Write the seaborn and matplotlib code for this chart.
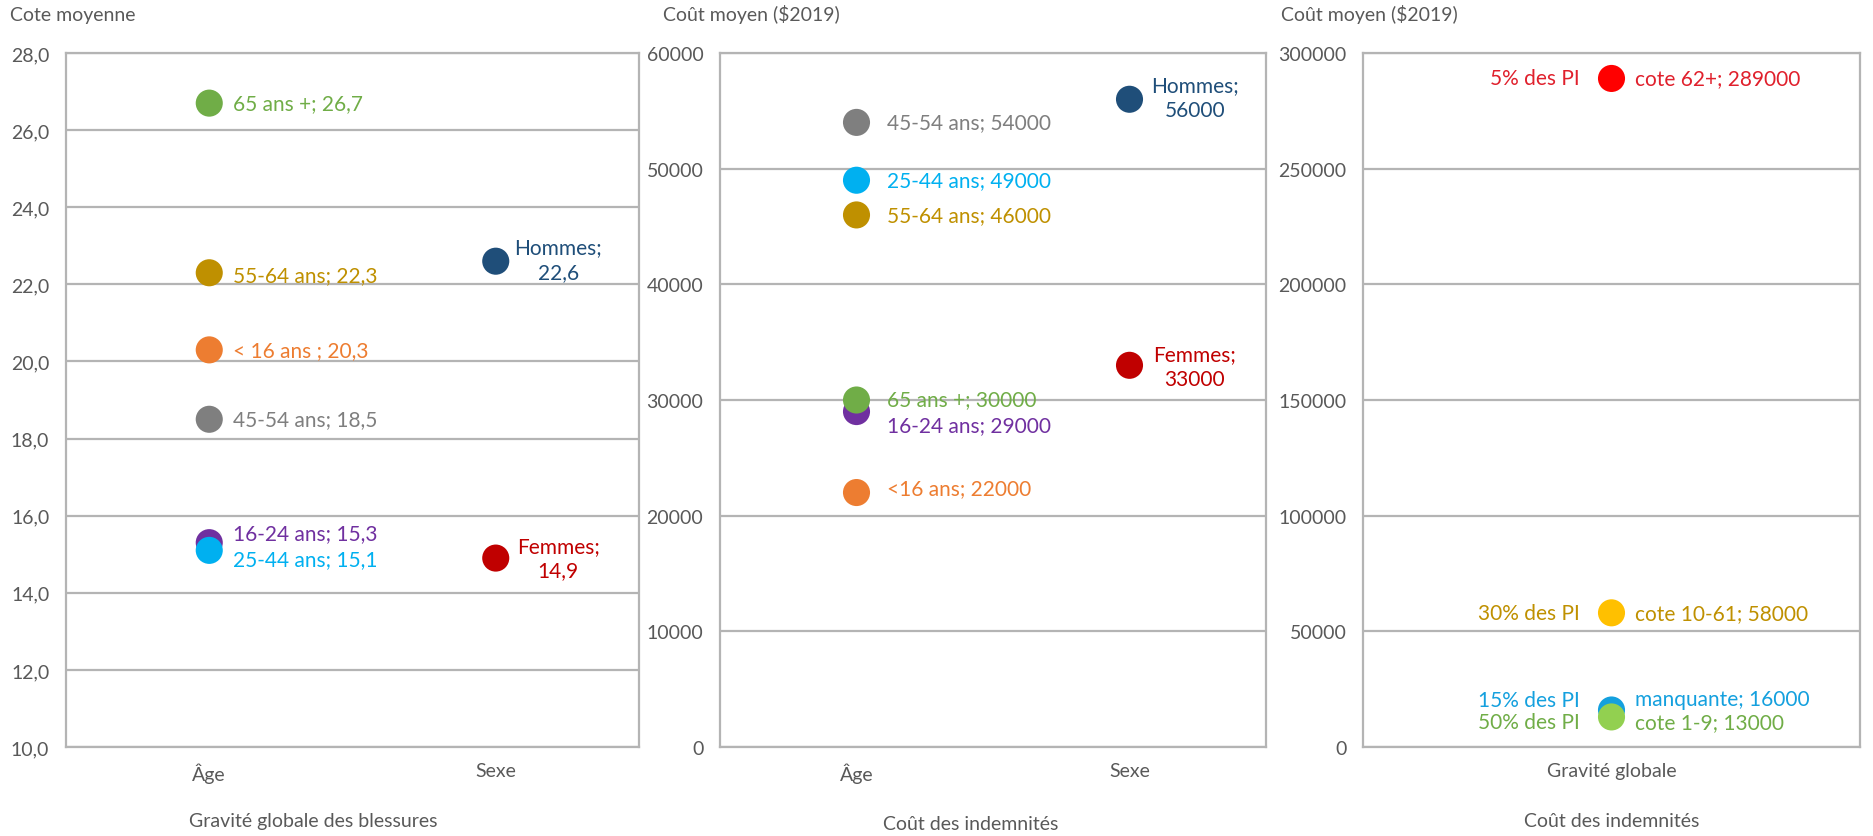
import matplotlib
matplotlib.use("Agg")
import matplotlib.pyplot as plt
from matplotlib.ticker import FuncFormatter, MultipleLocator
import pandas as pd
import seaborn as sns

# ---------------------------------------------------------------- data
# Gravité globale des blessures : cote moyenne par âge et par sexe
grav_groupes = ["Âge", "Âge", "Âge", "Âge", "Âge", "Âge", "Sexe", "Sexe"]
grav_labels = ["65 ans +", "55-64 ans", "< 16 ans ", "45-54 ans",
               "16-24 ans", "25-44 ans", "Hommes", "Femmes"]
grav_valeurs = [26.7, 22.3, 20.3, 18.5, 15.3, 15.1, 22.6, 14.9]

# Coût des indemnités : coût moyen ($2019) par âge et par sexe
cout_groupes = ["Âge", "Âge", "Âge", "Âge", "Âge", "Âge", "Sexe", "Sexe"]
cout_labels = ["45-54 ans", "25-44 ans", "55-64 ans", "16-24 ans",
               "65 ans +", "<16 ans", "Hommes", "Femmes"]
cout_valeurs = [54000, 49000, 46000, 29000, 30000, 22000, 56000, 33000]

# Coût des indemnités selon la gravité globale
sev_groupes = ["Gravité globale"] * 4
sev_labels = ["cote 62+", "cote 10-61", "manquante", "cote 1-9"]
sev_valeurs = [289000, 58000, 16000, 13000]
sev_parts = ["5% des PI", "30% des PI", "15% des PI", "50% des PI"]

# ---------------------------------------------------------------- styles
grav_couleurs = ["#70AD47", "#BF9000", "#ED7D31", "#7F7F7F",
                 "#7030A0", "#00B0F0", "#1F4E79", "#C00000"]
cout_couleurs = ["#7F7F7F", "#00B0F0", "#BF9000", "#7030A0",
                 "#70AD47", "#ED7D31", "#1F4E79", "#C00000"]
sev_couleurs = ["#FF0000", "#FFC000", "#14A0DE", "#92D050"]
sev_couleurs_texte = ["#E0202C", "#BF9000", "#14A0DE", "#70AD47"]

# label offsets (points) relative to each marker
grav_offsets = [(17, 0), (17, -2), (17, 0), (17, 0), (17, 7), (17, -6), (45, 1), (45, 0)]
cout_offsets = [(22, 0), (22, 0), (22, 0), (22, -10), (22, 1), (22, 3), (47, 1), (47, -1)]
sev_offsets = [(17, 0), (17, 0), (17, 8), (17, -4)]
sev_offsets_gauche = [(-23, 0), (-23, 0), (-23, 7), (-23, -4)]

GRIS_TXT = "#595959"
GRIS_LIGNE = "#B4B4B4"
FS_TICK = 14
FS_LAB = 15
MSIZE = 19.5

sns.set_theme(style="white")
plt.rcParams["font.family"] = ["Lato", "DejaVu Sans"]

W, H, DPI = 1874, 837, 100
fig = plt.figure(figsize=(W / DPI, H / DPI), dpi=DPI)
fig.patch.set_facecolor("white")


def add_axes(x0, x1, y0=54, y1=748):
    return fig.add_axes([x0 / W, 1 - y1 / H, (x1 - x0) / W, (y1 - y0) / H])


ax1 = add_axes(66, 639)
ax2 = add_axes(720, 1266)
ax3 = add_axes(1363, 1860)


def frame(ax, ylim, step, fmt, titre, titre_xy, categories_milieu=True):
    ax.set_ylim(*ylim)
    ax.yaxis.set_major_locator(MultipleLocator(step))
    ax.yaxis.set_major_formatter(FuncFormatter(fmt))
    ax.grid(axis="y", color=GRIS_LIGNE, linewidth=1.6)
    ax.grid(axis="x", visible=False)
    ax.set_axisbelow(True)
    for sp in ax.spines.values():
        sp.set_visible(True)
        sp.set_color(GRIS_LIGNE)
        sp.set_linewidth(1.6)
    ax.tick_params(axis="y", length=0, pad=12, labelsize=FS_TICK, labelcolor=GRIS_TXT)
    ax.tick_params(axis="x", which="major", length=0, pad=11, labelsize=FS_TICK,
                   labelcolor=GRIS_TXT)
    if categories_milieu:
        ax.set_xticks([0.5], minor=True)
        ax.tick_params(axis="x", which="minor", direction="in", length=4,
                       width=1.2, color=GRIS_LIGNE)
    ax.set_ylabel("")
    ax.set_xlabel(titre, fontsize=FS_TICK, color=GRIS_TXT)
    ax.xaxis.set_label_coords(*titre_xy)


def strip(ax, groupes, labels, valeurs, couleurs, order):
    df = pd.DataFrame({"groupe": groupes, "label": labels, "valeur": valeurs})
    sns.stripplot(data=df, x="groupe", y="valeur", hue="label",
                  hue_order=labels, palette=dict(zip(labels, couleurs)),
                  order=order, jitter=False, size=MSIZE, linewidth=0,
                  legend=False, ax=ax, zorder=3)
    return df


virgule = lambda v: f"{v:.1f}".replace(".", ",")

# ---- panel 1
ordre12 = ["Âge", "Sexe"]
strip(ax1, grav_groupes, grav_labels, grav_valeurs, grav_couleurs, ordre12)
for g, lab, v, c, (dx, dy) in zip(grav_groupes, grav_labels, grav_valeurs,
                                  grav_couleurs, grav_offsets):
    x = ordre12.index(g)
    if g == "Sexe":
        ax1.annotate(f"{lab};\n{virgule(v)}", (x, v), xytext=(dx, dy),
                     textcoords="offset points", ha="center", va="center",
                     color=c, fontsize=FS_LAB, linespacing=1.3)
    else:
        ax1.annotate(f"{lab}; {virgule(v)}", (x, v), xytext=(dx, dy),
                     textcoords="offset points", ha="left", va="center",
                     color=c, fontsize=FS_LAB)
frame(ax1, (10, 28), 2, lambda v, p: virgule(v), "Gravité globale des blessures",
      (0.431, -0.093))

# ---- panel 2
strip(ax2, cout_groupes, cout_labels, cout_valeurs, cout_couleurs, ordre12)
for g, lab, v, c, (dx, dy) in zip(cout_groupes, cout_labels, cout_valeurs,
                                  cout_couleurs, cout_offsets):
    x = ordre12.index(g)
    if g == "Sexe":
        ax2.annotate(f"{lab};\n{v}", (x, v), xytext=(dx, dy),
                     textcoords="offset points", ha="center", va="center",
                     color=c, fontsize=FS_LAB, linespacing=1.3)
    else:
        ax2.annotate(f"{lab}; {v}", (x, v), xytext=(dx, dy),
                     textcoords="offset points", ha="left", va="center",
                     color=c, fontsize=FS_LAB)
frame(ax2, (0, 60000), 10000, lambda v, p: f"{int(v)}", "Coût des indemnités",
      (0.459, -0.098))

# ---- panel 3
ordre3 = ["Gravité globale"]
strip(ax3, sev_groupes, sev_labels, sev_valeurs, sev_couleurs, ordre3)
for g, lab, v, part, c, (dx, dy), (gx, gy) in zip(
        sev_groupes, sev_labels, sev_valeurs, sev_parts, sev_couleurs_texte,
        sev_offsets, sev_offsets_gauche):
    x = ordre3.index(g)
    ax3.annotate(f"{lab}; {v}", (x, v), xytext=(dx, dy),
                 textcoords="offset points", ha="left", va="center",
                 color=c, fontsize=FS_LAB)
    ax3.annotate(part, (x, v), xytext=(gx, gy),
                 textcoords="offset points", ha="right", va="center",
                 color=c, fontsize=FS_LAB)
frame(ax3, (0, 300000), 50000, lambda v, p: f"{int(v)}", "Coût des indemnités",
      (0.5, -0.093), categories_milieu=False)

# ---- axis titles above each panel
for x_px, txt in [(10, "Cote moyenne"), (663, "Coût moyen (\\$2019)"),
                  (1281, "Coût moyen (\\$2019)")]:
    fig.text(x_px / W, 1 - 15 / H, txt, ha="left", va="center",
             fontsize=FS_TICK, color=GRIS_TXT)

fig.savefig("out.png", dpi=DPI, facecolor="white")
